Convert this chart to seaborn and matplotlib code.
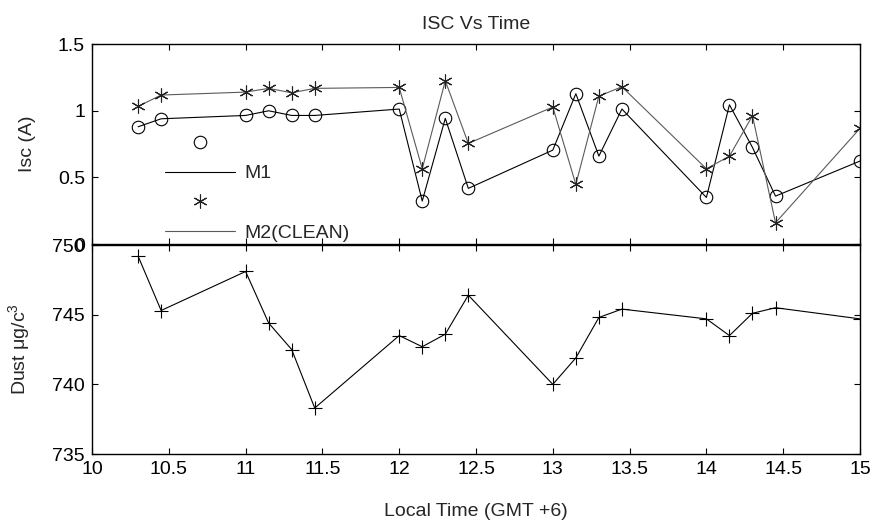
#!/usr/bin/env python
import matplotlib
matplotlib.use("Agg")
import matplotlib.pyplot as plt
from matplotlib.lines import Line2D
import pandas as pd
import seaborn as sns

# local time (GMT +6)
local_time = [10.3, 10.45, 11.0, 11.15, 11.3, 11.45, 12.0, 12.15, 12.3, 12.45,
              13.0, 13.15, 13.3, 13.45, 14.0, 14.15, 14.3, 14.45, 15.0]
# short circuit current (A)
isc_m1 = [0.88, 0.94, 0.965, 1.0, 0.965, 0.965, 1.013, 0.323, 0.943, 0.418,
          0.705, 1.128, 0.66, 1.013, 0.35, 1.045, 0.725, 0.36, 0.623]
isc_m2_clean = [1.033, 1.118, 1.14, 1.168, 1.135, 1.168, 1.175, 0.565, 1.225, 0.755,
                1.028, 0.448, 1.11, 1.18, 0.565, 0.66, 0.963, 0.16, 0.868]
# dust concentration
dust = [749.2, 745.3, 748.1, 744.4, 742.5, 738.3, 743.5, 742.7, 743.6, 746.4,
        740.0, 741.9, 744.8, 745.4, 744.7, 743.5, 745.1, 745.5, 744.7]

x_ticks = [10, 10.5, 11, 11.5, 12, 12.5, 13, 13.5, 14, 14.5, 15]
isc_ticks = [0, 0.5, 1, 1.5]
dust_ticks = [735, 740, 745, 750]

STAR = (6, 2, 0)
M2_COLOR = "#5a5a5a"


def start():
    sns.set_theme(style="white")
    plt.rcParams["font.family"] = ["Liberation Sans", "DejaVu Sans"]
    plt.rcParams["mathtext.fontset"] = "custom"
    plt.rcParams["mathtext.rm"] = "Liberation Sans"
    plt.rcParams["mathtext.it"] = "Liberation Sans:italic"

    df = pd.DataFrame({"time": local_time, "m1": isc_m1,
                       "m2": isc_m2_clean, "dust": dust})

    fig = plt.figure(figsize=(8.73, 5.25), dpi=100)
    ax1 = fig.add_axes([0.1054, 0.535, 0.8797, 0.381])
    ax2 = fig.add_axes([0.1054, 0.1352, 0.8797, 0.3981])

    sns.lineplot(data=df, x="time", y="m1", ax=ax1, color="black", linewidth=0.8,
                 marker="o", markersize=9, markerfacecolor="none",
                 markeredgecolor="black", markeredgewidth=0.8)
    sns.lineplot(data=df, x="time", y="m2", ax=ax1, color=M2_COLOR, linewidth=0.8,
                 marker=STAR, markersize=10, markeredgecolor="#222222",
                 markeredgewidth=0.8)
    sns.lineplot(data=df, x="time", y="dust", ax=ax2, color="black", linewidth=0.8,
                 marker="+", markersize=10, markeredgecolor="black",
                 markeredgewidth=0.8)

    for ax in (ax1, ax2):
        ax.set_xlim(10, 15)
        ax.set_xticks(x_ticks)
        ax.tick_params(direction="in", top=True, right=True, bottom=True, left=True,
                       length=4, width=0.8, color="black", labelsize=14, pad=5,
                       labelcolor="black")
        for s in ax.spines.values():
            s.set_color("black")
            s.set_linewidth(1.0)
        ax.set_xlabel("")

    ax1.set_ylim(0, 1.5)
    ax1.set_yticks(isc_ticks)
    ax1.set_yticklabels(["0", "0.5", "1", "1.5"])
    ax1.tick_params(labelbottom=False)
    ax1.set_ylabel("Isc (A)", fontsize=14)
    ax1.yaxis.set_label_coords(-0.073, 0.5)
    ax1.set_title("ISC Vs Time", fontsize=14, pad=11)

    ax2.set_ylim(735, 750)
    ax2.set_yticks(dust_ticks)
    ax2.set_xticklabels([f"{t:g}" for t in x_ticks])
    ax2.set_ylabel("Dust μg/c$^3$", fontsize=14)
    ax2.yaxis.set_label_coords(-0.078, 0.5)
    ax2.set_xlabel("Local Time (GMT +6)", fontsize=14)
    ax2.xaxis.set_label_coords(0.5, -0.235)

    handles = [
        Line2D([], [], linestyle="none", marker="o", markersize=9,
               markerfacecolor="none", markeredgecolor="black", markeredgewidth=0.8),
        Line2D([], [], color="black", linewidth=0.8),
        Line2D([], [], linestyle="none", marker=STAR, markersize=10,
               markeredgecolor="#222222", markeredgewidth=0.8),
        Line2D([], [], color=M2_COLOR, linewidth=0.8),
    ]
    ax1.legend(handles, ["", "M1", "", "M2(CLEAN)"], loc="upper left",
               bbox_to_anchor=(0.095, 0.545), frameon=False, fontsize=14,
               handlelength=3.6, handletextpad=0.5, labelspacing=0.62,
               borderpad=0, borderaxespad=0)

    plt.savefig("out.png", dpi=100)
    plt.clf()


if __name__ == "__main__":
    start()
